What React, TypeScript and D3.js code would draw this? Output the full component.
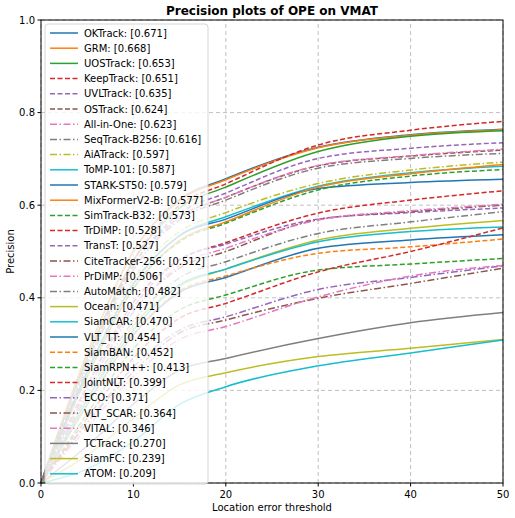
import * as d3 from "d3";
import React from "react";

const xs = [0, 5, 10, 15, 20, 30, 40, 50];

const names = [
  "OKTrack", "GRM", "UOSTrack", "KeepTrack", "UVLTrack", "OSTrack", "All-in-One",
  "SeqTrack-B256", "AiATrack", "ToMP-101", "STARK-ST50", "MixFormerV2-B",
  "SimTrack-B32", "TrDiMP", "TransT", "CiteTracker-256", "PrDiMP", "AutoMatch",
  "Ocean", "SiamCAR", "VLT_TT", "SiamBAN", "SiamRPN++", "JointNLT", "ECO",
  "VLT_SCAR", "VITAL", "TCTrack", "SiamFC", "ATOM",
];

const scores = [
  0.671, 0.668, 0.653, 0.651, 0.635, 0.624, 0.623, 0.616, 0.597, 0.587, 0.579,
  0.577, 0.573, 0.528, 0.527, 0.512, 0.506, 0.482, 0.471, 0.47, 0.454, 0.452,
  0.413, 0.399, 0.371, 0.364, 0.346, 0.27, 0.239, 0.209,
];

const curves = [
  [0, 0.28, 0.5, 0.612, 0.657, 0.725, 0.752, 0.764],
  [0, 0.28, 0.5, 0.61, 0.655, 0.724, 0.751, 0.763],
  [0, 0.27, 0.48, 0.594, 0.639, 0.716, 0.749, 0.761],
  [0, 0.26, 0.48, 0.6, 0.646, 0.73, 0.762, 0.781],
  [0, 0.26, 0.47, 0.582, 0.626, 0.701, 0.723, 0.735],
  [0, 0.26, 0.47, 0.574, 0.617, 0.685, 0.706, 0.719],
  [0, 0.26, 0.46, 0.574, 0.617, 0.686, 0.707, 0.721],
  [0, 0.25, 0.46, 0.568, 0.611, 0.68, 0.701, 0.712],
  [0, 0.24, 0.44, 0.543, 0.584, 0.647, 0.676, 0.693],
  [0, 0.24, 0.43, 0.535, 0.575, 0.641, 0.67, 0.684],
  [0, 0.24, 0.43, 0.534, 0.57, 0.636, 0.649, 0.656],
  [0, 0.23, 0.42, 0.524, 0.564, 0.639, 0.668, 0.688],
  [0, 0.23, 0.42, 0.521, 0.561, 0.633, 0.663, 0.677],
  [0, 0.21, 0.39, 0.482, 0.519, 0.583, 0.611, 0.631],
  [0, 0.21, 0.38, 0.482, 0.516, 0.57, 0.584, 0.594],
  [0, 0.2, 0.37, 0.464, 0.5, 0.569, 0.586, 0.6],
  [0, 0.2, 0.37, 0.47, 0.507, 0.568, 0.588, 0.602],
  [0, 0.19, 0.35, 0.443, 0.478, 0.539, 0.564, 0.586],
  [0, 0.18, 0.34, 0.426, 0.462, 0.525, 0.55, 0.567],
  [0, 0.18, 0.33, 0.428, 0.462, 0.521, 0.543, 0.553],
  [0, 0.17, 0.32, 0.412, 0.444, 0.507, 0.525, 0.536],
  [0, 0.17, 0.32, 0.415, 0.447, 0.496, 0.51, 0.527],
  [0, 0.15, 0.29, 0.374, 0.406, 0.46, 0.473, 0.485],
  [0, 0.14, 0.27, 0.356, 0.388, 0.456, 0.5, 0.551],
  [0, 0.13, 0.25, 0.33, 0.359, 0.418, 0.444, 0.469],
  [0, 0.13, 0.24, 0.324, 0.352, 0.399, 0.431, 0.464],
  [0, 0.12, 0.23, 0.31, 0.338, 0.402, 0.447, 0.47],
  [0, 0.08, 0.17, 0.244, 0.269, 0.312, 0.346, 0.368],
  [0, 0.06, 0.14, 0.212, 0.238, 0.273, 0.291, 0.31],
  [0, 0.03, 0.09, 0.17, 0.208, 0.253, 0.281, 0.309],
];

const xTicks = [0, 10, 20, 30, 40, 50];
const yTicks = [0, 0.2, 0.4, 0.6, 0.8, 1.0];

const palette = d3.schemeCategory10;
const dashes = ["", "5,2.5", "7,2.5,1.5,2.5"];

const W = 515;
const H = 518;
const m = { left: 41, right: 12, top: 20, bottom: 35 };

export default function App() {
  const x = d3.scaleLinear().domain([0, 50]).range([m.left, W - m.right]);
  const y = d3.scaleLinear().domain([0, 1]).range([H - m.bottom, m.top]);
  const line = d3
    .line<number>()
    .x((_d, i) => x(xs[i]))
    .y((d) => y(d))
    .curve(d3.curveMonotoneX);

  const rowH = 15.2;
  const legTop = 24;

  return (
    <div style={{ position: "absolute", left: 0, top: 0 }}>
      <svg width={W} height={H} style={{ fontFamily: "DejaVu Sans", display: "block" }}>
        <rect width={W} height={H} fill="#fff" />
        {xTicks.map((t) => (
          <line key={"gx" + t} x1={x(t)} x2={x(t)} y1={y(0)} y2={y(1)} stroke="#b0b0b0" strokeDasharray="4,3" strokeWidth={0.8} />
        ))}
        {yTicks.map((t) => (
          <line key={"gy" + t} x1={x(0)} x2={x(50)} y1={y(t)} y2={y(t)} stroke="#b0b0b0" strokeDasharray="4,3" strokeWidth={0.8} />
        ))}
        {curves.map((c, i) => (
          <path
            key={names[i]}
            d={line(c) || ""}
            fill="none"
            stroke={palette[i % 10]}
            strokeWidth={1.5}
            strokeDasharray={dashes[Math.floor(i / 3) % 3]}
          />
        ))}
        <rect x={x(0)} y={y(1)} width={x(50) - x(0)} height={y(0) - y(1)} fill="none" stroke="#000" strokeWidth={1} />
        {xTicks.map((t) => (
          <g key={"tx" + t}>
            <line x1={x(t)} x2={x(t)} y1={y(0)} y2={y(0) + 3.5} stroke="#000" />
            <text x={x(t)} y={y(0) + 15} fontSize={10} textAnchor="middle">{t}</text>
          </g>
        ))}
        {yTicks.map((t) => (
          <g key={"ty" + t}>
            <line x1={x(0) - 3.5} x2={x(0)} y1={y(t)} y2={y(t)} stroke="#000" />
            <text x={x(0) - 6} y={y(t) + 3.5} fontSize={10} textAnchor="end">{t.toFixed(1)}</text>
          </g>
        ))}
        <text x={(x(0) + x(50)) / 2} y={511} fontSize={10} textAnchor="middle">Location error threshold</text>
        <text transform={`translate(14,${(y(0) + y(1)) / 2}) rotate(-90)`} fontSize={10} textAnchor="middle">Precision</text>
        <text x={(x(0) + x(50)) / 2} y={15} fontSize={12} fontWeight="bold" textAnchor="middle">Precision plots of OPE on VMAT</text>
        <rect x={45} y={legTop} width={163} height={names.length * rowH + 4} rx={3} fill="#fff" fillOpacity={0.8} stroke="#ccc" strokeWidth={0.8} />
        {names.map((n, i) => {
          const cy = legTop + 9 + i * rowH;
          return (
            <g key={"lg" + n}>
              <line x1={50} x2={78} y1={cy} y2={cy} stroke={palette[i % 10]} strokeWidth={1.5} strokeDasharray={dashes[Math.floor(i / 3) % 3]} />
              <text x={84} y={cy + 3.5} fontSize={10}>{`${n}: [${scores[i].toFixed(3)}]`}</text>
            </g>
          );
        })}
      </svg>
    </div>
  );
}
